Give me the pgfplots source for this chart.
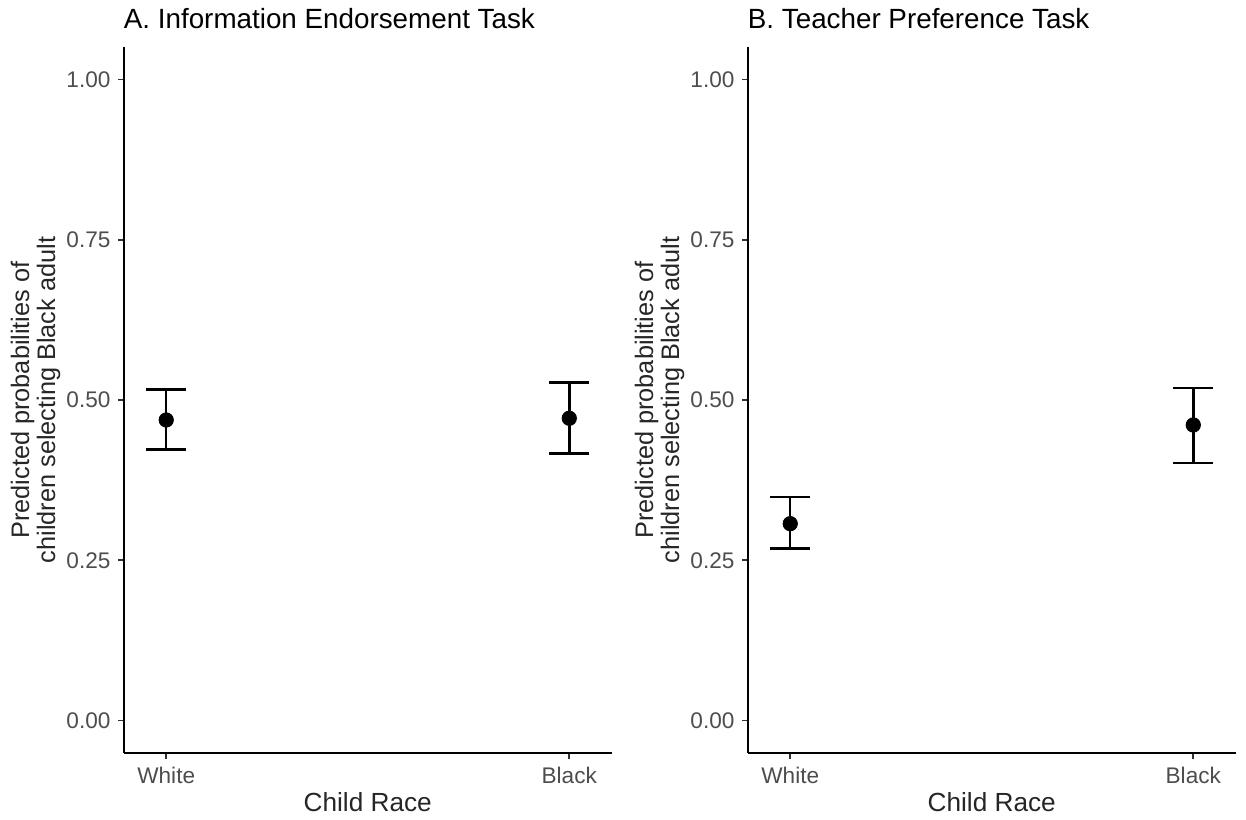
\documentclass[border=0pt]{standalone}
\usepackage{pgfplots}
\pgfplotsset{compat=1.18}
\usepackage{fontspec}
\setmainfont{Liberation Sans}
\definecolor{tickgray}{HTML}{4D4D4D}
\definecolor{tickline}{HTML}{333333}
\pgfplotsset{
  panel/.style={
    scale only axis,
    anchor=south west,
    width=244.25pt, height=352.5pt,
    xmin=0.894, xmax=2.106,
    ymin=-0.05, ymax=1.05,
    axis x line*=bottom, axis y line*=left,
    axis line style={black, line width=1pt, -},
    xtick={1,2}, xticklabels={White,Black},
    ytick={0,0.25,0.5,0.75,1},
    yticklabels={0.00,0.25,0.50,0.75,1.00},
    tick align=outside,
    major tick length=3pt,
    tick style={tickline, line width=0.8pt},
    /pgf/number format/assume math mode=true,
    ticklabel style={font=\fontsize{11.3pt}{13pt}\selectfont, text=tickgray},
    xticklabel style={yshift=-1pt},
    xlabel={Child Race},
    ylabel={Predicted probabilities of\\children selecting Black adult},
    xlabel style={at={(axis description cs:0.5,-0.0702)}, anchor=center, font=\fontsize{13.1pt}{15.5pt}\selectfont, text=black!85},
    ylabel style={at={(axis description cs:-0.180,0.5)}, anchor=center, align=center, font=\fontsize{12.65pt}{13pt}\selectfont, text=black!85},
    clip=false,
  },
  pts/.style={
    only marks, mark=*, mark size=3.6pt, black,
    mark options={fill=black, draw=black},
    error bars/.cd, y dir=both, y explicit,
    error mark=-,
    error bar style={line width=1.25pt, black},
    error mark options={rotate=90, line width=1.25pt, mark size=10pt, black},
  },
}
\begin{document}
\begin{tikzpicture}
\useasboundingbox (0,0) rectangle (623pt,409.5pt);
\begin{axis}[panel, at={(61.75pt,33.25pt)}]
\addplot[pts] coordinates {
  (1,0.4688) += (0,0.0479) -= (0,0.0457)
  (2,0.4715) += (0,0.0555) -= (0,0.0547)
};
\node[anchor=base west, inner sep=0pt, yshift=9.25pt, font=\fontsize{13.9pt}{16pt}\selectfont] at (rel axis cs:0,1) {A. Information Endorsement Task};
\end{axis}
\begin{axis}[panel, at={(373.75pt,33.25pt)}]
\addplot[pts] coordinates {
  (1,0.3070) += (0,0.0420) -= (0,0.0390)
  (2,0.4610) += (0,0.0580) -= (0,0.0590)
};
\node[anchor=base west, inner sep=0pt, yshift=9.25pt, font=\fontsize{13.9pt}{16pt}\selectfont] at (rel axis cs:0,1) {B. Teacher Preference Task};
\end{axis}
\end{tikzpicture}
\end{document}
